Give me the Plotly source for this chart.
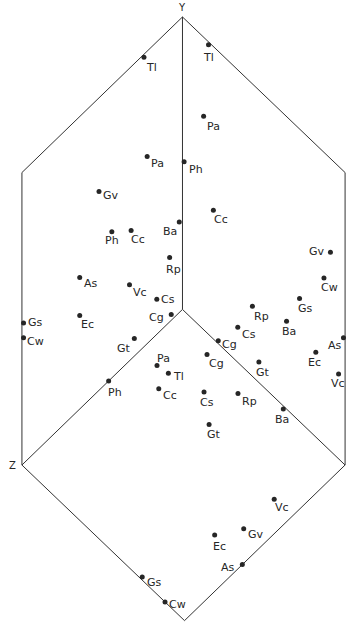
import plotly.graph_objects as go

# --- data: each face of the cube plot holds the 15 samples in its own two axes (0..1) ---
left_names = ["Tl", "Pa", "Gv", "Ba", "Ph", "Cc", "Rp", "As", "Vc", "Cs", "Gs", "Ec", "Cg", "Cw", "Gt"]
left_z = [0.24, 0.22, 0.52, 0.02, 0.44, 0.32, 0.08, 0.64, 0.33, 0.16, 0.99, 0.64, 0.07, 0.99, 0.30]
left_y = [0.99, 0.64, 0.68, 0.31, 0.50, 0.44, 0.22, 0.45, 0.26, 0.12, 0.48, 0.32, 0.02, 0.43, 0.06]

right_names = ["Tl", "Pa", "Ph", "Cc", "Gv", "Cw", "Gs", "Rp", "Cs", "Ba", "As", "Ec", "Cg", "Gt", "Vc"]
right_x = [0.16, 0.13, 0.01, 0.19, 0.91, 0.87, 0.72, 0.43, 0.34, 0.64, 0.99, 0.82, 0.22, 0.47, 0.96]
right_y = [0.99, 0.73, 0.51, 0.44, 0.68, 0.57, 0.42, 0.24, 0.12, 0.30, 0.43, 0.29, 0.01, 0.07, 0.29]

bottom_names = ["Pa", "Tl", "Cg", "Ph", "Cc", "Cs", "Rp", "Ba", "Gt", "Vc", "Gv", "Ec", "As", "Gs", "Cw"]
bottom_z = [0.26, 0.25, 0.07, 0.46, 0.33, 0.20, 0.10, 0.01, 0.29, 0.33, 0.52, 0.63, 0.64, 0.99, 1.00]
bottom_x = [0.10, 0.16, 0.22, 0.00, 0.18, 0.33, 0.44, 0.63, 0.45, 0.89, 0.89, 0.82, 1.00, 0.73, 0.88]

axis_labels = ["Y", "Z"]

# label placement relative to the dot, in pixels (right, down)
left_offsets = {"Tl": (8, 10), "Pa": (10, 7), "Gv": (12, 4), "Ba": (-9, 10), "Ph": (0, 9),
                "Cc": (7, 9), "Rp": (4, 12), "As": (11, 6), "Vc": (10, 8), "Cs": (11, 0),
                "Gs": (12, -1), "Ec": (8, 9), "Cg": (-15, 3), "Cw": (12, 4), "Gt": (-10, 10)}
right_offsets = {"Tl": (0, 13), "Pa": (10, 10), "Ph": (12, 8), "Cc": (8, 9), "Gv": (-13, -1),
                 "Cw": (6, 9), "Gs": (6, 10), "Rp": (9, 10), "Cs": (11, 7), "Ba": (2, 10),
                 "As": (-8, 8), "Ec": (-1, 10), "Cg": (11, 4), "Gt": (4, 10), "Vc": (-1, 10)}
bottom_offsets = {"Pa": (6, -7), "Tl": (10, 3), "Cg": (9, 9), "Ph": (6, 11), "Cc": (11, 7),
                  "Cs": (3, 11), "Rp": (12, 8), "Ba": (-1, 10), "Gt": (5, 10), "Vc": (8, 8),
                  "Gv": (12, 6), "Ec": (5, 11), "As": (-14, 3), "Gs": (12, 5), "Cw": (12, 3)}

# oblique projection of the cube (edge length 1 along Y)
AX_X = (0.556, -0.532)
AX_Y = (0.0, 1.0)
AX_Z = (-0.549, -0.532)


def project(a, b, va, vb):
    xs = [p * va[0] + q * vb[0] for p, q in zip(a, b)]
    ys = [p * va[1] + q * vb[1] for p, q in zip(a, b)]
    return xs, ys


def add(*vs):
    return (sum(v[0] for v in vs), sum(v[1] for v in vs))


O = (0.0, 0.0)
top = AX_Y
ul = add(AX_Y, AX_Z)
ll = AX_Z
bot = add(AX_Z, AX_X)
lr = AX_X
ur = add(AX_Y, AX_X)

frame = [top, ul, ll, bot, lr, ur, top, None, O, top, None, O, ll, None, O, lr]
fx = [p[0] if p else None for p in frame]
fy = [p[1] if p else None for p in frame]

INK = "#262626"
FONT = dict(family="DejaVu Sans", size=11, color=INK)

fig = go.Figure()
fig.add_trace(go.Scatter(x=fx, y=fy, mode="lines", line=dict(color="#333333", width=1),
                         hoverinfo="skip", showlegend=False))

annotations = []
faces = [
    (left_names, left_z, left_y, AX_Z, AX_Y, left_offsets),
    (right_names, right_x, right_y, AX_X, AX_Y, right_offsets),
    (bottom_names, bottom_z, bottom_x, AX_Z, AX_X, bottom_offsets),
]
for names, a, b, va, vb, offs in faces:
    xs, ys = project(a, b, va, vb)
    fig.add_trace(go.Scatter(x=xs, y=ys, mode="markers", text=names,
                             marker=dict(size=5, color=INK), showlegend=False))
    for n, x, y in zip(names, xs, ys):
        dx, dy = offs[n]
        annotations.append(dict(x=x, y=y, text=n, showarrow=False, xshift=dx, yshift=-dy,
                                font=FONT))

annotations.append(dict(x=top[0], y=top[1], text=axis_labels[0], showarrow=False,
                        yshift=9, font=dict(family="DejaVu Sans", size=10, color=INK)))
annotations.append(dict(x=ll[0], y=ll[1], text=axis_labels[1], showarrow=False,
                        xshift=-9, font=dict(family="DejaVu Sans", size=10, color=INK)))

fig.update_layout(
    width=348, height=625,
    margin=dict(l=0, r=0, t=0, b=0),
    paper_bgcolor="white", plot_bgcolor="white",
    xaxis=dict(range=[-0.624, 0.566], visible=False, fixedrange=True),
    yaxis=dict(range=[-1.079, 1.058], visible=False, fixedrange=True),
    annotations=annotations,
)

# the page's default body margin would shift the figure by 8px
fig.write_html("out.html", config={"displayModeBar": False},
               post_script="document.body.style.margin = '0';")
